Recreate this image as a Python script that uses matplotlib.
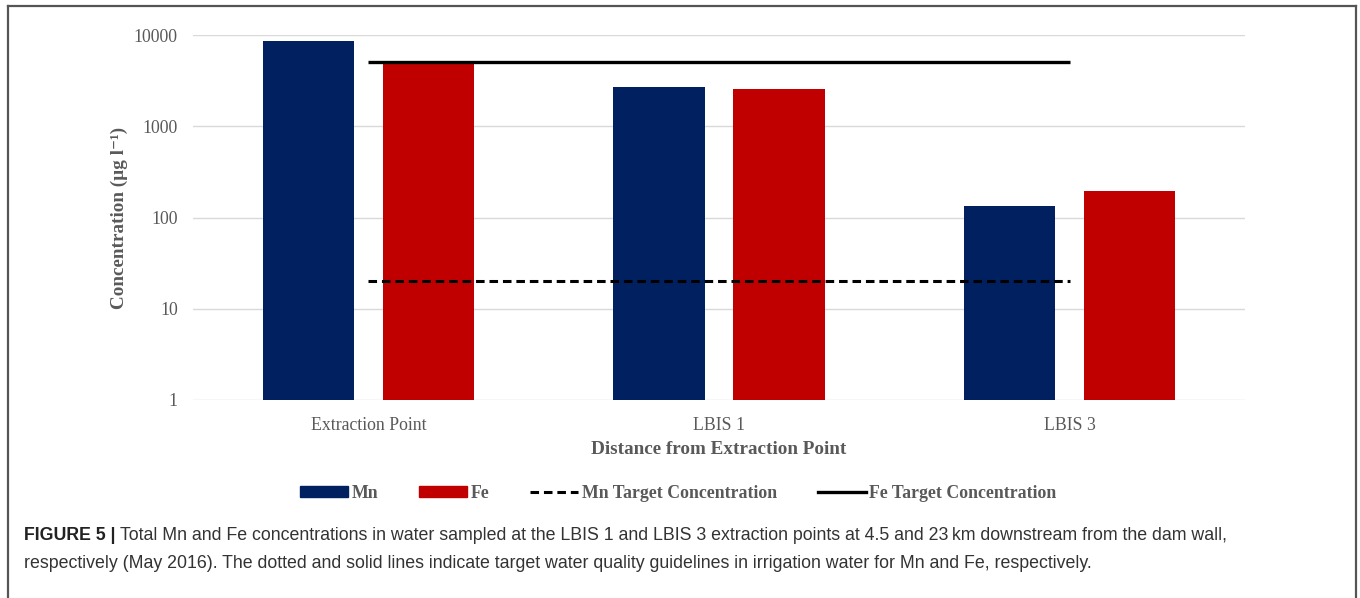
import matplotlib
matplotlib.use("Agg")
import matplotlib.pyplot as plt
from matplotlib.patches import Patch
from matplotlib.lines import Line2D
import numpy as np

categories = ["Extraction Point", "LBIS 1", "LBIS 3"]
mn_values = [8600, 2700, 134]
fe_values = [4950, 2580, 195]
mn_target = 20
fe_target = 5000
y_ticks = [1, 10, 100, 1000, 10000]
y_tick_labels = ["1", "10", "100", "1000", "10000"]

MN_COLOR = "#002060"
FE_COLOR = "#C00000"
TXT = "#595959"
SERIF = ["Liberation Serif", "DejaVu Serif"]
SANS = ["Liberation Sans", "DejaVu Sans"]

fig = plt.figure(figsize=(13.6, 5.98), dpi=100)
ax = fig.add_axes([193/1360, 1-400/598, (1245-193)/1360, (400-35)/598])

x = np.arange(len(categories))
bw = 0.26
off = 0.171
ax.bar(x - off, mn_values, width=bw, color=MN_COLOR, zorder=3)
ax.bar(x + off, fe_values, width=bw, color=FE_COLOR, zorder=3)
ax.plot([x[0], x[-1]], [mn_target, mn_target], color="black", lw=2.2,
        linestyle=(0, (2.8, 1.6)), zorder=4)
ax.plot([x[0], x[-1]], [fe_target, fe_target], color="black", lw=2.4,
        solid_capstyle="butt", zorder=4)

ax.set_yscale("log")
ax.set_ylim(1, 10000)
ax.set_xlim(-0.5, len(categories) - 0.5)
ax.set_yticks(y_ticks)
ax.set_yticklabels(y_tick_labels)
ax.minorticks_off()
ax.yaxis.grid(True, color="#d9d9d9", lw=1.0, zorder=0)
ax.set_xticks(x)
ax.set_xticklabels(categories)
for s in ax.spines.values():
    s.set_visible(False)
ax.tick_params(axis="both", length=0, labelsize=12.8, labelcolor=TXT, pad=11)
ax.tick_params(axis="x", pad=12)
for lab in ax.get_xticklabels() + ax.get_yticklabels():
    lab.set_family(SERIF)

ax.set_ylabel("Concentration (µg l\u207b\u00b9)", family=SERIF, fontsize=13.8,
              fontweight="bold", color=TXT, labelpad=4)
ax.set_xlabel("Distance from Extraction Point", family=SERIF, fontsize=13.8,
              fontweight="bold", color=TXT, labelpad=5)

handles = [
    Patch(color=MN_COLOR, label="Mn"),
    Patch(color=FE_COLOR, label="Fe"),
    Line2D([], [], color="black", lw=2.2, linestyle=(0, (2.8, 1.6)), label="Mn Target Concentration"),
    Line2D([], [], color="black", lw=2.4, label="Fe Target Concentration"),
]
leg = fig.legend(handles=handles, loc="center", bbox_to_anchor=(678/1360, 1-493/598),
                 ncol=4, frameon=False, handlelength=2.7, handleheight=0.55,
                 handletextpad=0.2, columnspacing=2.3,
                 prop={"family": SERIF, "weight": "bold", "size": 12.8})
for t in leg.get_texts():
    t.set_color(TXT)

# outer frame
fc = "#555555"
fig.add_artist(Line2D([8/1360, 1356/1360], [1-6/598, 1-6/598], color=fc, lw=1.6, transform=fig.transFigure))
fig.add_artist(Line2D([8/1360, 8/1360], [0, 1-6/598], color=fc, lw=1.6, transform=fig.transFigure))
fig.add_artist(Line2D([1356/1360, 1356/1360], [0, 1-6/598], color=fc, lw=1.6, transform=fig.transFigure))

# caption
cap_x = 24/1360
y1 = 1-536/598
y2 = 1-563/598
csize = 12.8
bold = fig.text(cap_x, y1, "FIGURE 5 | ", family=SANS, fontsize=csize, fontweight="bold",
                color="#222222", va="center", ha="left")
fig.canvas.draw()
r = fig.canvas.get_renderer()
bb = bold.get_window_extent(renderer=r)
fig.text(bb.x1/1360, y1,
         "Total Mn and Fe concentrations in water sampled at the LBIS 1 and LBIS 3 extraction points at 4.5 and 23\u2009km downstream from the dam wall,",
         family=SANS, fontsize=csize, color="#333333", va="center", ha="left")
fig.text(cap_x, y2,
         "respectively (May 2016). The dotted and solid lines indicate target water quality guidelines in irrigation water for Mn and Fe, respectively.",
         family=SANS, fontsize=csize, color="#333333", va="center", ha="left")

fig.savefig("out.png", dpi=100, facecolor="white")
